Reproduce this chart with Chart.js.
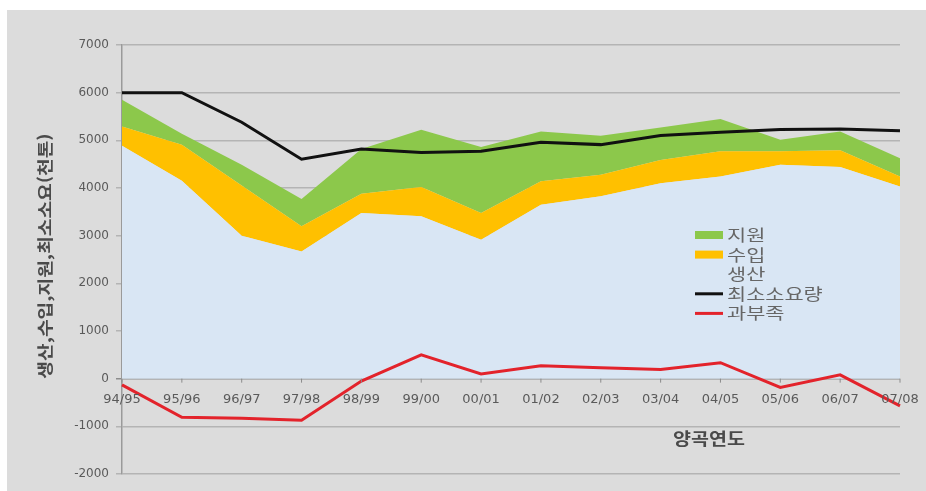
<!DOCTYPE html>
<html lang="ko">
<head>
<meta charset="utf-8">
<title>양곡연도별 생산·수입·지원</title>
<script src="https://cdn.jsdelivr.net/npm/chart.js@4.4.1/dist/chart.umd.min.js"></script>
<style>
    html, body { margin: 0; padding: 0; background: #ffffff; }
    #frame {
        position: absolute; left: 7px; top: 10px;
        width: 919px; height: 481px; background: #dcdcdc;
    }
    #chart { position: absolute; left: 0; top: 0; }
</style>
</head>
<body>
<div id="frame"></div>
<canvas id="chart" width="926" height="491"></canvas>
<script>
// 양곡연도 (x 축)
const seasons = ['94/95', '95/96', '96/97', '97/98', '98/99', '99/00', '00/01',
                 '01/02', '02/03', '03/04', '04/05', '05/06', '06/07', '07/08'];

// 천톤 단위, 그림에서 읽은 값
const production = [4885, 4150, 3000, 2670, 3475, 3405, 2915, 3650, 3825, 4100, 4240, 4490, 4440, 4030];
const imports    = [405, 755, 1050, 525, 405, 615, 560, 490, 455, 490, 530, 280, 350, 210];
const aid        = [560, 235, 440, 575, 940, 1200, 1385, 1045, 815, 680, 675, 240, 395, 385];
const minNeed    = [6000, 6000, 5380, 4605, 4820, 4745, 4770, 4960, 4910, 5100, 5170, 5225, 5240, 5200];
const balance    = [-130, -810, -830, -870, -50, 500, 100, 270, 230, 190, 335, -185, 80, -570];

// y 축 눈금
const yMin = -2000;
const yMax = 7000;
const yStep = 1000;

const yTitle = '생산,수입,지원,최소소요(천톤)';
const xTitle = '양곡연도';
const legendOrder = [2, 1, 0, 3, 4];

const KR = "'Noto Sans CJK KR', 'Noto Sans', sans-serif";

// x labels sit under the zero line, plus legend and axis titles
const decorations = {
    id: 'decorations',
    afterDraw(chart) {
        const ctx = chart.ctx;
        const xs = chart.scales.x, ys = chart.scales.y;
        const y0 = ys.getPixelForValue(0);
        ctx.save();

        // category ticks + labels
        ctx.strokeStyle = '#8c8c8c';
        ctx.lineWidth = 1;
        ctx.font = '13px "DejaVu Sans"';
        ctx.fillStyle = '#5a5a5a';
        ctx.textAlign = 'center';
        ctx.textBaseline = 'middle';
        chart.data.labels.forEach((lab, i) => {
            const px = xs.getPixelForValue(i);
            ctx.beginPath();
            ctx.moveTo(px, y0);
            ctx.lineTo(px, y0 + 4);
            ctx.stroke();
            ctx.fillText(lab, px, y0 + 21);
        });

        // y title
        ctx.save();
        ctx.translate(45, 256);
        ctx.rotate(-Math.PI / 2);
        ctx.scale(1.2, 1);
        ctx.font = 'bold 16px ' + KR;
        ctx.fillStyle = '#4a4a4a';
        ctx.fillText(yTitle, 0, 0);
        ctx.restore();

        // x title
        ctx.save();
        ctx.translate(709, 439);
        ctx.scale(1.15, 1);
        ctx.font = 'bold 17px ' + KR;
        ctx.fillStyle = '#4a4a4a';
        ctx.fillText(xTitle, 0, 0);
        ctx.restore();

        // legend
        const lx = 695, ly = 235, rowH = 19.6;
        legendOrder.forEach((di, i) => {
            const ds = chart.data.datasets[di];
            const y = ly + i * rowH;
            if (ds.fill) {
                ctx.fillStyle = ds.backgroundColor;
                ctx.fillRect(lx, y - 4, 28, 8);
            } else {
                ctx.fillStyle = ds.borderColor;
                ctx.fillRect(lx, y - 1.5, 28, 3);
            }
            ctx.save();
            ctx.translate(lx + 32, y);
            ctx.scale(1.3, 1);
            ctx.font = '16px ' + KR;
            ctx.fillStyle = '#666666';
            ctx.textAlign = 'left';
            ctx.fillText(ds.label, 0, 0);
            ctx.restore();
        });

        ctx.restore();
    }
};

new Chart(document.getElementById('chart'), {
    type: 'line',
    data: {
        labels: seasons,
        datasets: [{
            label: '생산',
            data: production,
            stack: 'supply',
            fill: 'origin',
            backgroundColor: '#d9e6f4',
            borderWidth: 0,
            pointRadius: 0,
            order: 2
        }, {
            label: '수입',
            data: imports,
            stack: 'supply',
            fill: '-1',
            backgroundColor: '#ffc000',
            borderWidth: 0,
            pointRadius: 0,
            order: 2
        }, {
            label: '지원',
            data: aid,
            stack: 'supply',
            fill: '-1',
            backgroundColor: '#8cc84b',
            borderWidth: 0,
            pointRadius: 0,
            order: 2
        }, {
            label: '최소소요량',
            data: minNeed,
            stack: 'need',
            fill: false,
            borderColor: '#111111',
            borderWidth: 3,
            pointRadius: 0,
            order: 1
        }, {
            label: '과부족',
            data: balance,
            stack: 'balance',
            fill: false,
            borderColor: '#e3232b',
            borderWidth: 3,
            pointRadius: 0,
            order: 0
        }]
    },
    options: {
        responsive: false,
        animation: false,
        layout: { padding: { top: 45, right: 26, bottom: 17, left: 0 } },
        plugins: {
            legend: { display: false },
            tooltip: { enabled: false }
        },
        scales: {
            x: {
                display: false,
                offset: false
            },
            y: {
                stacked: true,
                min: yMin,
                max: yMax,
                afterFit: s => { s.width = 122; },
                grid: {
                    color: c => c.tick && c.tick.value === 0 ? '#8c8c8c' : '#b4b4b4',
                    lineWidth: 1.5,
                    tickLength: 6
                },
                border: { color: '#9a9a9a', width: 1.5 },
                ticks: {
                    stepSize: yStep,
                    color: '#5a5a5a',
                    font: { family: 'DejaVu Sans', size: 12 },
                    padding: 7,
                    callback: v => String(v)
                }
            }
        }
    },
    plugins: [decorations]
});
</script>
</body>
</html>
